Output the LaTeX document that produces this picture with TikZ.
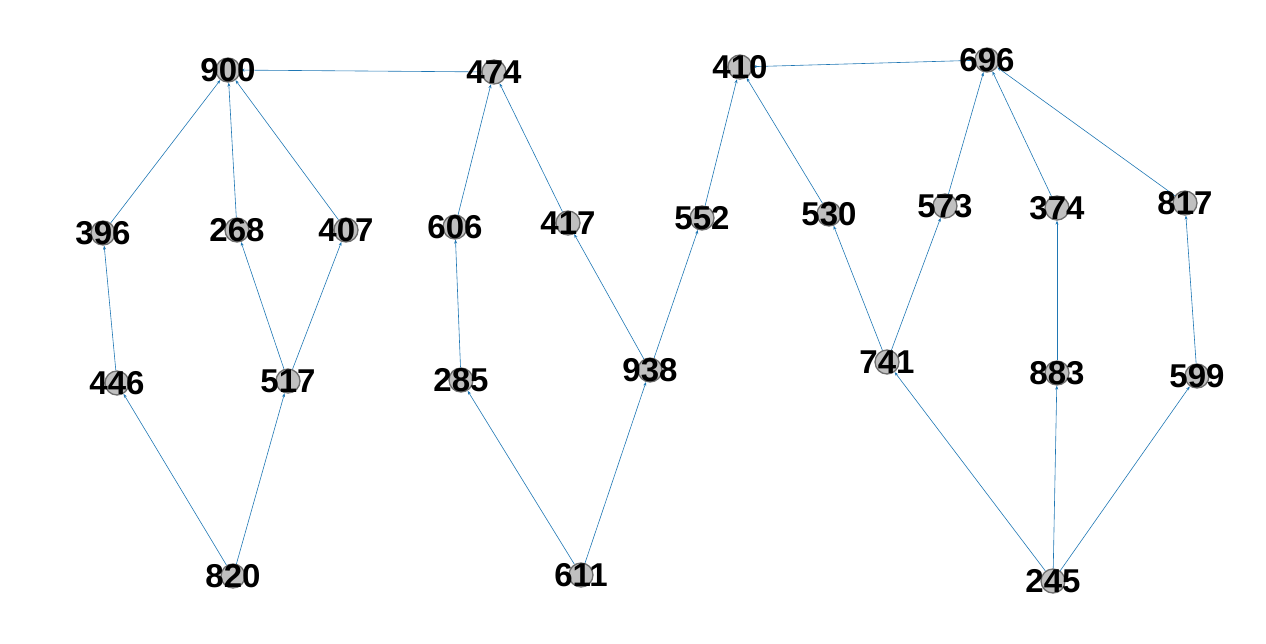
\documentclass[tikz,border=0pt]{standalone}
\usepackage{fontspec}
\setmainfont{Liberation Sans}
\usetikzlibrary{arrows.meta}
\definecolor{edgeblue}{RGB}{31,119,180}
\definecolor{nodefill}{RGB}{192,192,192}
\definecolor{nodeline}{RGB}{110,110,110}
\begin{document}
\begin{tikzpicture}[x=1pt,y=-1pt,
  vert/.style={circle,fill=nodefill,draw=nodeline,line width=1.3pt,minimum size=24pt,inner sep=0pt},
  lab/.style={font=\fontsize{33}{33}\selectfont\bfseries,inner sep=0pt,text=black},
  edge/.style={draw=edgeblue,line width=0.6pt,-{Stealth[length=4pt,width=3pt]}}]
\useasboundingbox (0,0) rectangle (1266,644);
\foreach \n/\x/\y in {900/228/70,474/494/72,410/740/67,696/987/60,
  396/103/233,268/237/230,407/346/230,606/455/227,417/568/223,552/702/218,
  530/829/214,573/945/206,374/1057/208,817/1185/203,
  446/117/383,517/288/381,285/461/380,938/650/370,741/887/362,883/1057/373,599/1197/376,
  820/233/576,611/581/575,245/1053/581}
  \node[vert] (n\n) at (\x,\y) {};
\foreach \a/\b in {474/900,396/900,268/900,407/900,446/396,820/446,820/517,517/268,517/407,
  606/474,417/474,285/606,611/285,611/938,938/417,938/552,552/410,530/410,696/410,
  741/530,741/573,573/696,374/696,817/696,883/374,599/817,245/883,245/599,245/741}
  \draw[edge] (n\a) -- (n\b);
\foreach \n/\x/\y in {900/228/70,474/494/72,410/740/67,696/987/60,
  396/103/233,268/237/230,407/346/230,606/455/227,417/568/223,552/702/218,
  530/829/214,573/945/206,374/1057/208,817/1185/203,
  446/117/383,517/288/381,285/461/380,938/650/370,741/887/362,883/1057/373,599/1197/376,
  820/233/576,611/581/575,245/1053/581}
  \node[lab] (t\n) at (\x,\y) {\n};
\end{tikzpicture}
\end{document}
